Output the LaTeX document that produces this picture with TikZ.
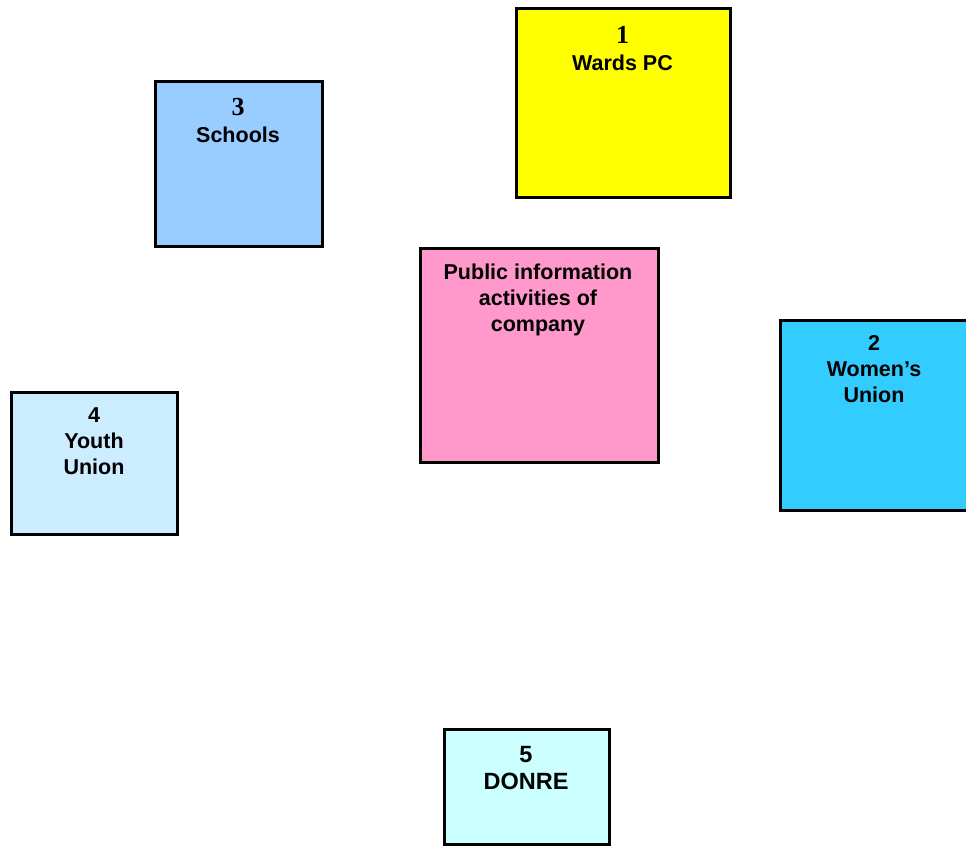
\documentclass[tikz,border=0pt]{standalone}
\usepackage{fontspec}
\setmainfont{Liberation Sans}
\newfontfamily\numserif{Liberation Serif}
\definecolor{cyel}{HTML}{FFFF00}
\definecolor{cschool}{HTML}{99CCFF}
\definecolor{cpink}{HTML}{FF99CC}
\definecolor{cwomen}{HTML}{33CCFF}
\definecolor{cyouth}{HTML}{CCECFF}
\definecolor{cdonre}{HTML}{CCFFFF}
\tikzset{
  orgbox/.style={draw=black, line width=3pt, rectangle, inner sep=0pt},
  orgtxt/.style={anchor=north, align=center, inner sep=0pt,
    font=\fontsize{21.5}{26}\selectfont\bfseries},
}
\newcommand{\bignum}[1]{{\fontsize{26}{26}\selectfont\numserif\bfseries #1}}
\begin{document}
\begin{tikzpicture}[x=1pt,y=-1pt]
\useasboundingbox (0,0) rectangle (966,847);
\clip (0,0) rectangle (966,847);
\node[orgbox, fill=cyel, minimum width=214pt, minimum height=189pt] (b1) at (623.5,103) {};
\node[orgbox, fill=cschool, minimum width=167pt, minimum height=165pt] (b3) at (239,164) {};
\node[orgbox, fill=cpink, minimum width=238pt, minimum height=214pt] (bc) at (539.5,355.5) {};
\node[orgbox, fill=cwomen, minimum width=187pt, minimum height=190pt] (b2) at (874,415.5) {};
\node[orgbox, fill=cyouth, minimum width=166pt, minimum height=142pt] (b4) at (94.5,463.5) {};
\node[orgbox, fill=cdonre, minimum width=165pt, minimum height=115pt] (b5) at (527,787) {};

\node[orgtxt] (t1) at ([xshift=-1pt,yshift=-19pt]b1.north) {\bignum{1}\\[1pt]Wards PC};
\node[orgtxt] (t3) at ([xshift=-1pt,yshift=-18pt]b3.north) {\bignum{3}\\[1pt]Schools};
\node[orgtxt] (tc) at ([xshift=-1.5pt,yshift=-16.5pt]bc.north) {Public information\\activities of\\company};
\node[orgtxt] (t2) at ([yshift=-16.5pt]b2.north) {2\\Women’s\\Union};
\node[orgtxt] (t4) at ([xshift=-0.5pt,yshift=-16.5pt]b4.north) {4\\Youth\\Union};
\node[orgtxt, font=\fontsize{23.5}{27}\selectfont\bfseries] (t5) at ([xshift=-1pt,yshift=-18pt]b5.north) {5\\DONRE};
\end{tikzpicture}
\end{document}
